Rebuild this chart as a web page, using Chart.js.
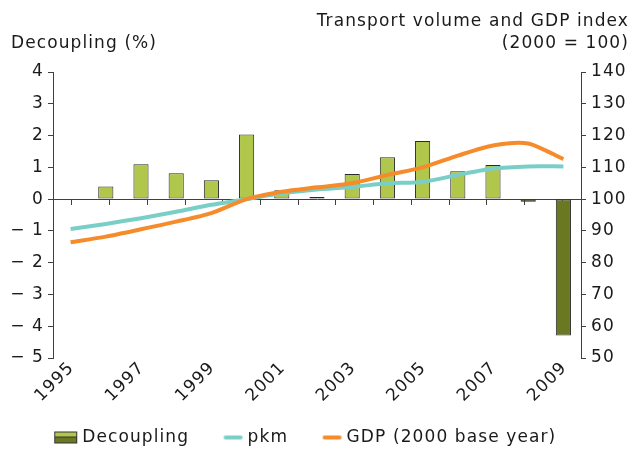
<!DOCTYPE html>
<html><head><meta charset="utf-8">
<script src="https://cdn.jsdelivr.net/npm/chart.js@4/dist/chart.umd.min.js"></script>
<style>html,body{margin:0;padding:0;background:#fff}#wrap{width:642px;height:451px}</style>
</head><body><div id="wrap"><canvas id="c" width="642" height="451"></canvas></div>
<script>
const years = ['1995','1996','1997','1998','1999','2000','2001','2002','2003','2004','2005','2006','2007','2008','2009'];
const decoupling = [null,0.40,1.10,0.81,0.59,2.03,0.28,0.07,0.79,1.32,1.83,0.88,1.07,-0.08,-4.29];
const pkm = [90.6,92.2,94.0,96.0,98.2,100.0,101.8,103.0,103.8,105.0,105.4,107.6,109.6,110.3,110.3];
const gdp = [86.4,88.2,90.5,92.9,95.6,100.0,102.3,103.7,105.0,107.6,110.0,113.7,116.9,117.5,112.6];
const leftTitle = 'Decoupling (%)';
const rightTitle = ['Transport volume and GDP index','(2000 = 100)'];
const seriesNames = ['Decoupling','pkm','GDP (2000 base year)'];

const FONT = 'DejaVu Sans';
const FS = 17;
const LS = '1.1px';
const TXT = '#1a1a1a';
const AX = '#404040';
const LIGHT = '#b1c74b';
const DARK = '#6b7822';
const TEAL = '#79cfc8';
const ORANGE = '#f68b2b';

// legend swatches: image 45 wide, centred on a 30 px legend box, content right-aligned
function makeSwatch(kind){
  const W = 45, H = 14;
  const cv = document.createElement('canvas');
  cv.width = W; cv.height = H;
  const g = cv.getContext('2d');
  const R = W - 4;
  if (kind === 'bar') {
    g.fillStyle = '#333'; g.fillRect(R-23, 1, 23, 12);
    g.fillStyle = LIGHT; g.fillRect(R-22, 2, 21, 4);
    g.fillStyle = DARK; g.fillRect(R-22, 7, 21, 5);
  } else {
    g.strokeStyle = kind; g.lineWidth = 4; g.lineCap = 'round';
    g.beginPath(); g.moveTo(R-17, 7); g.lineTo(R-2, 7); g.stroke();
  }
  return cv;
}
const swBar = makeSwatch('bar'), swTeal = makeSwatch(TEAL), swOrange = makeSwatch(ORANGE);

const spacingPlugin = {
  id:'spacing',
  beforeUpdate(chart){ chart.ctx.letterSpacing = LS; },
  beforeDraw(chart){ chart.ctx.letterSpacing = LS; }
};

const titlesPlugin = {
  id:'titles',
  afterDraw(chart){
    const ctx = chart.ctx;
    ctx.save();
    ctx.font = FS+'px "'+FONT+'"';
    ctx.fillStyle = TXT;
    ctx.textBaseline = 'alphabetic';
    ctx.textAlign = 'left';
    ctx.fillText(leftTitle, 11, 48);
    ctx.textAlign = 'right';
    ctx.fillText(rightTitle[0], 629, 26);
    ctx.fillText(rightTitle[1], 629, 48);
    ctx.restore();
  }
};

new Chart(document.getElementById('c'), {
  data: {
    labels: years,
    datasets: [
      {type:'bar', label: seriesNames[0], data: decoupling, yAxisID:'y', xAxisID:'x', order:3,
       backgroundColor: c => (c.raw < 0 ? DARK : LIGHT), borderColor:'#2a2a2a', borderWidth:1,
       borderSkipped:false, categoryPercentage:1, barPercentage:0.43},
      {type:'line', label: seriesNames[1], data: pkm, yAxisID:'y1', xAxisID:'x', order:2,
       borderColor: TEAL, borderWidth:4, pointRadius:0, tension:0.25, fill:false},
      {type:'line', label: seriesNames[2], data: gdp, yAxisID:'y1', xAxisID:'x', order:1,
       borderColor: ORANGE, borderWidth:4, pointRadius:0, tension:0.25, fill:false}
    ]
  },
  options: {
    responsive:false, animation:false, devicePixelRatio:1,
    layout:{padding:{top:72,left:-42,right:0,bottom:-5}},
    plugins:{
      tooltip:{enabled:false},
      legend:{position:'bottom',
        labels:{usePointStyle:true, pointStyleWidth:30, boxHeight:13, padding:20, color:TXT,
          font:{family:FONT,size:FS},
          generateLabels(chart){
            return [
              {text:seriesNames[0], pointStyle:swBar, fillStyle:LIGHT, strokeStyle:'#333', lineWidth:0, datasetIndex:0, fontColor:TXT},
              {text:seriesNames[1], pointStyle:swTeal, fillStyle:TEAL, strokeStyle:TEAL, lineWidth:0, datasetIndex:1, fontColor:TXT},
              {text:seriesNames[2], pointStyle:swOrange, fillStyle:ORANGE, strokeStyle:ORANGE, lineWidth:0, datasetIndex:2, fontColor:TXT}
            ];
          }
        }
      }
    },
    scales:{
      x:{type:'category', labels:years, position:'bottom',
         grid:{display:false, drawTicks:false}, border:{display:false},
         ticks:{autoSkip:false, minRotation:45, maxRotation:45, padding:0, labelOffset:1, color:TXT,
                font:{family:FONT,size:FS},
                callback:(v,i)=> (i%2===0 ? years[i] : '')},
         afterFit:s=>{s.height=51;}},
      x0:{type:'category', labels:years, position:{y:0},
         grid:{display:true, drawOnChartArea:false, offset:true, tickLength:5, color:AX, lineWidth:1},
         border:{display:true, color:AX, width:1},
         ticks:{display:false}},
      y:{position:'left', min:-5, max:4,
         ticks:{stepSize:1, padding:4, color:TXT, font:{family:FONT,size:FS},
                callback:v=> (v<0 ? '\u2212 '+Math.abs(v) : String(v))},
         grid:{display:true, drawOnChartArea:false, tickLength:5, color:AX},
         border:{color:AX, width:1},
         afterFit:s=>{s.width=95;}},
      y1:{position:'right', min:50, max:140,
         ticks:{stepSize:10, padding:5, color:TXT, font:{family:FONT,size:FS}},
         grid:{display:true, drawOnChartArea:false, tickLength:5, color:AX},
         border:{color:AX, width:1},
         afterFit:s=>{s.width=61;}}
    }
  },
  plugins:[spacingPlugin, titlesPlugin]
});
</script></body></html>
